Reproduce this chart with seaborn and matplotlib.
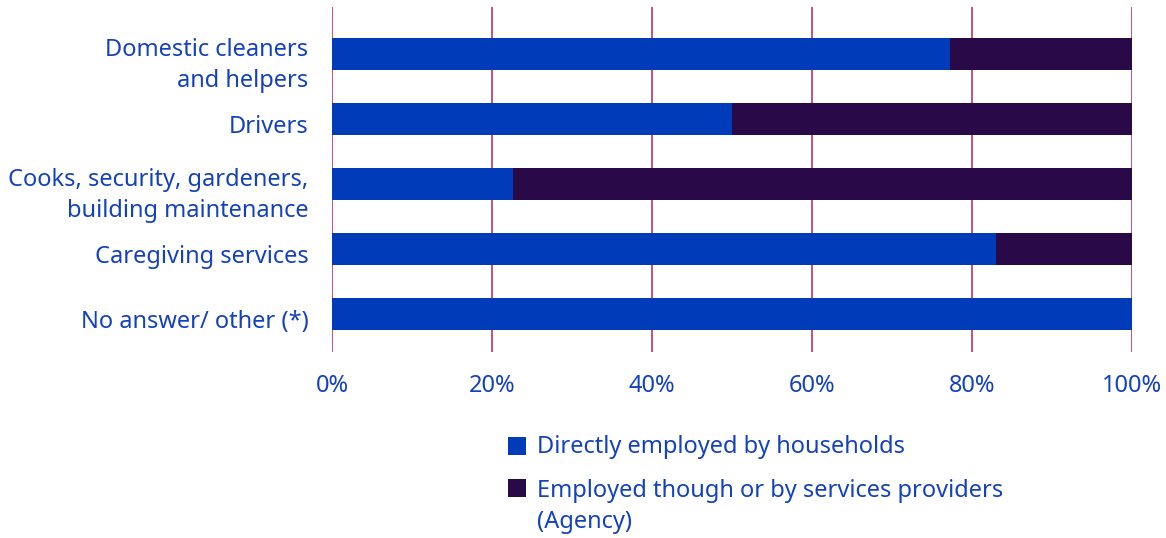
import matplotlib
matplotlib.use("Agg")
import matplotlib.pyplot as plt
import matplotlib.transforms as mtransforms
import seaborn as sns
import pandas as pd
from matplotlib.patches import Rectangle

categories = ["Domestic cleaners\nand helpers", "Drivers",
              "Cooks, security, gardeners,\nbuilding maintenance",
              "Caregiving services", "No answer/ other (*)"]
direct = [77.3, 50.0, 22.6, 83.0, 100.0]
agency = [22.7, 50.0, 77.4, 17.0, 0.0]
series_names = ["Directly employed by households",
                "Employed though or by services providers\n(Agency)"]
xticks = [0, 20, 40, 60, 80, 100]
xticklabels = ["0%", "20%", "40%", "60%", "80%", "100%"]

BLUE = "#003CBA"
DARK = "#2A0948"
TEXT = "#1341C0"
GRID = "#C4407A"
FS = 17

sns.set_theme(style="white")
plt.rcParams["font.family"] = ["Noto Sans", "DejaVu Sans"]

df = pd.DataFrame({"cat": categories, "direct": direct,
                   "total": [d + a for d, a in zip(direct, agency)]})

fig = plt.figure(figsize=(11.66, 5.38), dpi=100)
ax = fig.add_axes([332/1166, 1-352/538, 800/1166, 345/538])

sns.barplot(data=df, y="cat", x="total", color=DARK, orient="h",
            width=0.49, ax=ax, saturation=1, zorder=3, linewidth=0)
sns.barplot(data=df, y="cat", x="direct", color=BLUE, orient="h",
            width=0.49, ax=ax, saturation=1, zorder=4, linewidth=0)

ax.set_xlim(0, 100)
ax.set_ylim(4.585, -0.723)
ax.set_xticks(xticks)
ax.set_xticklabels(xticklabels)
for x in xticks:
    ax.axvline(x, color=GRID, lw=1.3, zorder=1)
for s in ax.spines.values():
    s.set_visible(False)
ax.set_xlabel("")
ax.set_ylabel("")
ax.tick_params(axis="y", length=0, pad=17, labelsize=FS, labelcolor=TEXT)
ax.tick_params(axis="x", length=0, pad=16, labelsize=FS, labelcolor=TEXT)
offset = mtransforms.ScaledTranslation(0, -5/100, fig.dpi_scale_trans)
for t in ax.get_yticklabels():
    t.set_linespacing(1.38)
    t.set_transform(t.get_transform() + offset)
ax.grid(False)

# legend
W, H = 1166, 538
for (y0, ty, col, lab) in [(437, 435, BLUE, series_names[0]),
                           (479, 479, DARK, series_names[1])]:
    fig.patches.append(Rectangle((508/W, 1-(y0+18)/H), 18/W, 18/H,
                                 transform=fig.transFigure, color=col, lw=0))
    fig.text(537/W, 1-ty/H, lab, fontsize=FS, color=TEXT,
             va="top", ha="left", linespacing=1.38)

fig.savefig("out.png", dpi=100)
